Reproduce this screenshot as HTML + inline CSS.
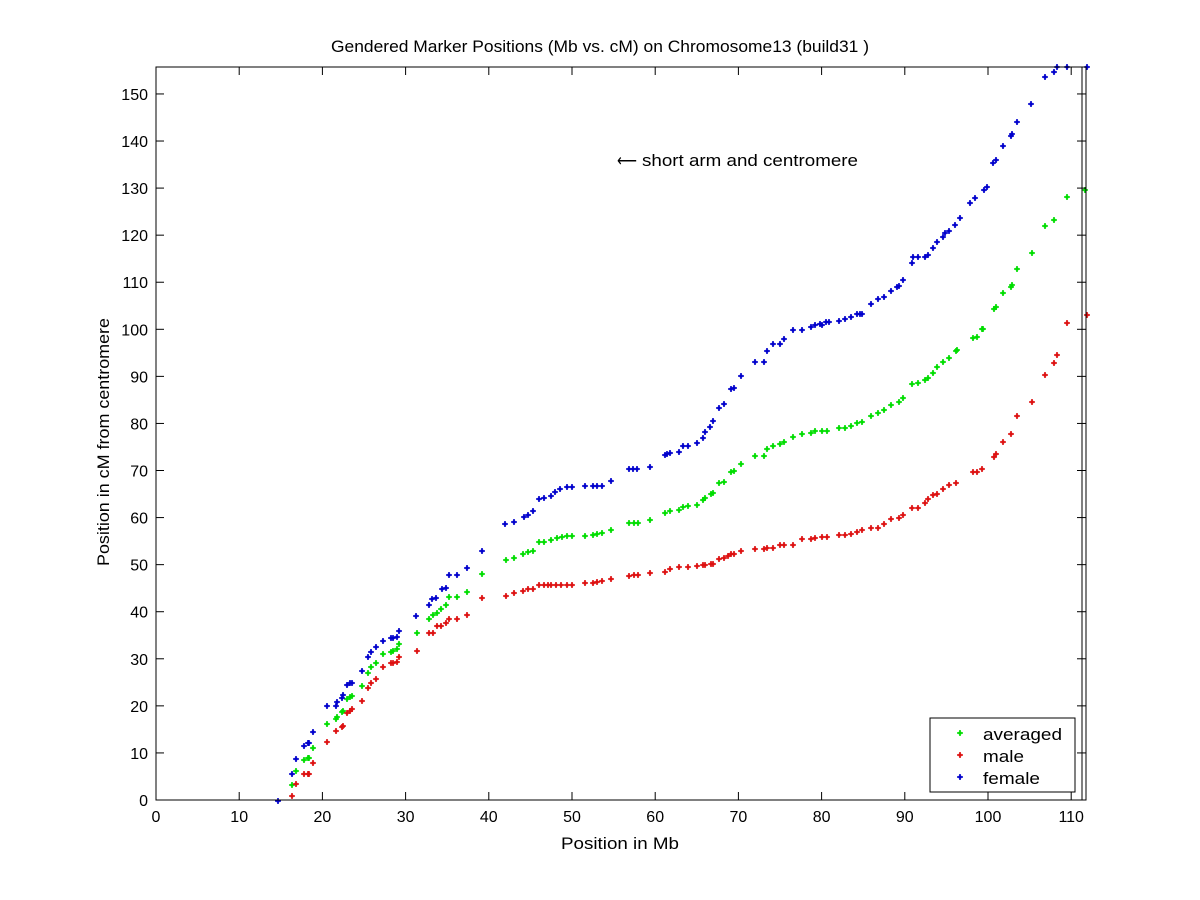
<!DOCTYPE html>
<html><head><meta charset="utf-8"><style>
body{margin:0;background:#fff}
svg{display:block;font-family:"Liberation Sans",sans-serif}
</style></head><body>
<svg id="s" width="1200" height="900" xmlns="http://www.w3.org/2000/svg">
<rect width="1200" height="900" fill="#fff"/>
<g id="pts"></g>
<g id="ax" stroke="#000" stroke-width="1" fill="none">
<rect x="156" y="67" width="930" height="733"/>
<line x1="1082" y1="67" x2="1082" y2="800"/>
</g>
<g id="lab" font-size="16" fill="#000"></g>
<text x="331" y="52" font-size="17" textLength="538" lengthAdjust="spacingAndGlyphs">Gendered Marker Positions (Mb vs. cM) on Chromosome13 (build31 )</text>
<text x="561" y="849" font-size="17" textLength="118" lengthAdjust="spacingAndGlyphs">Position in Mb</text>
<text transform="translate(109,566) rotate(-90)" font-size="17" textLength="248" lengthAdjust="spacingAndGlyphs">Position in cM from centromere</text>
<text x="617" y="166" font-size="17" textLength="20" lengthAdjust="spacingAndGlyphs">⟵</text>
<text x="642" y="166" font-size="17" textLength="216" lengthAdjust="spacingAndGlyphs">short arm and centromere</text>
<rect x="930" y="718" width="145" height="74" fill="#fff" stroke="#000"/>
<text x="983" y="740" font-size="17" textLength="79" lengthAdjust="spacingAndGlyphs">averaged</text>
<text x="983" y="762" font-size="17" textLength="41" lengthAdjust="spacingAndGlyphs">male</text>
<text x="983" y="784" font-size="17" textLength="57" lengthAdjust="spacingAndGlyphs">female</text>
<g id="leg"></g>
</svg>
<script>
const NS="http://www.w3.org/2000/svg";
const ax=document.getElementById('ax'),lab=document.getElementById('lab'),pts=document.getElementById('pts'),leg=document.getElementById('leg');
function L(x1,y1,x2,y2){const l=document.createElementNS(NS,'line');l.setAttribute('x1',x1);l.setAttribute('y1',y1);l.setAttribute('x2',x2);l.setAttribute('y2',y2);ax.appendChild(l);}
function T(x,y,s,a){const t=document.createElementNS(NS,'text');t.setAttribute('x',x);t.setAttribute('y',y);t.setAttribute('text-anchor',a);t.textContent=s;lab.appendChild(t);}
for(let i=0;i<=11;i++){const x=156+83.2*i;L(x,800,x,792);L(x,67,x,75);T(x,822,String(i*10),'middle');}
for(let i=0;i<=15;i++){const y=800-47.07*i;L(156,y,164,y);L(1086,y,1077,y);T(148,y+6,String(i*10),'end');}
function mk(g,x,y,c){const p=document.createElementNS(NS,'path');p.setAttribute('d',`M${x-2.5} ${y}L${x} ${y-2.5}L${x+2.5} ${y}L${x} ${y+2.5}Z M${x-3} ${y-0.8}h6v1.6h-6z M${x-0.8} ${y-3}h1.6v6h-1.6z`);p.setAttribute('fill',c);g.appendChild(p);}
const B=[[278,801],[292,774],[296,759],[304,746],[308,743],[309,743],[313,732],[327,706],[336,706],[337,702],[342,698],[343,695],[347,685],[350,683],[352,683],[362,671],[368,657],[371,652],[376,647],[383,641],[391,638],[393,638],[397,637],[399,631],[416,616],[429,605],[432,599],[436,598],[442,589],[446,588],[449,575],[457,575],[467,568],[482,551],[505,524],[514,522],[524,517],[528,515],[533,511],[539,499],[544,498],[551,496],[555,492],[560,489],[567,487],[572,487],[585,486],[593,486],[597,486],[602,486],[611,481],[629,469],[633,469],[637,469],[650,467],[665,455],[667,454],[670,453],[679,452],[683,446],[688,446],[697,443],[703,438],[705,432],[710,427],[713,421],[719,408],[724,404],[731,389],[734,388],[741,376],[755,362],[764,362],[767,351],[773,344],[780,344],[784,339],[793,330],[802,330],[811,327],[815,325],[820,324],[822,325],[826,322],[829,322],[839,321],[845,319],[851,317],[857,314],[860,314],[862,314],[871,304],[878,299],[884,297],[891,291],[897,287],[899,286],[903,280],[912,263],[913,257],[918,257],[925,257],[928,255],[933,248],[937,242],[943,237],[945,233],[949,231],[955,225],[960,218],[970,203],[975,198],[984,190],[987,187],[993,163],[996,160],[1003,146],[1011,136],[1012,134],[1017,122],[1031,104],[1045,77],[1054,72],[1057,67],[1067,67],[1087,67]];
const G=[[292,785],[296,771],[304,760],[308,758],[309,758],[313,748],[327,724],[336,719],[337,717],[342,712],[343,711],[347,699],[350,697],[352,696],[362,686],[368,673],[371,667],[376,663],[383,654],[391,652],[393,651],[397,649],[399,644],[417,633],[429,619],[433,615],[437,613],[441,609],[446,605],[449,597],[457,597],[467,592],[482,574],[506,560],[514,558],[523,554],[528,552],[533,551],[539,542],[544,542],[551,540],[557,538],[562,537],[567,536],[572,536],[585,536],[593,535],[597,534],[602,533],[611,530],[629,523],[634,523],[638,523],[650,520],[665,513],[670,511],[679,510],[683,507],[688,506],[697,505],[703,500],[705,498],[711,494],[713,493],[719,483],[724,482],[731,472],[734,471],[741,464],[755,456],[764,456],[767,449],[773,446],[780,444],[784,442],[793,437],[802,434],[811,433],[815,431],[822,431],[827,431],[839,428],[845,428],[851,426],[857,423],[862,422],[871,416],[878,413],[884,410],[891,405],[899,402],[903,398],[912,384],[918,383],[925,380],[928,378],[933,373],[937,367],[943,362],[949,358],[956,351],[957,350],[973,338],[977,337],[982,329],[983,329],[994,309],[996,307],[1003,293],[1011,287],[1012,285],[1017,269],[1032,253],[1045,226],[1054,220],[1067,197],[1085,190]];
const R=[[292,796],[296,784],[304,774],[308,774],[309,774],[313,763],[327,742],[336,731],[342,727],[343,726],[347,713],[350,711],[352,709],[362,701],[368,688],[371,683],[376,679],[383,667],[391,663],[393,663],[397,662],[399,657],[417,651],[429,633],[433,633],[437,626],[441,626],[446,623],[449,619],[457,619],[467,615],[482,598],[506,596],[514,593],[523,591],[528,589],[533,589],[539,585],[544,585],[548,585],[551,585],[556,585],[561,585],[567,585],[572,585],[585,583],[593,583],[597,582],[602,581],[611,579],[629,576],[634,575],[638,575],[650,573],[665,572],[670,569],[679,567],[688,567],[697,566],[703,565],[705,565],[711,564],[713,564],[719,559],[724,558],[728,556],[731,554],[734,554],[741,551],[755,549],[764,549],[767,548],[773,548],[780,545],[784,545],[793,545],[802,539],[811,539],[815,538],[822,537],[827,537],[839,535],[845,535],[851,534],[857,532],[862,530],[871,528],[878,528],[884,524],[891,519],[899,518],[903,515],[912,508],[918,508],[925,503],[928,499],[933,495],[937,494],[943,489],[949,485],[956,483],[973,472],[977,472],[982,469],[994,457],[996,454],[1003,442],[1011,434],[1017,416],[1032,402],[1045,375],[1054,363],[1057,355],[1067,323],[1087,315]];
G.forEach(p=>mk(pts,p[0],p[1],'#00dd00'));
R.forEach(p=>mk(pts,p[0],p[1],'#dd1111'));
B.forEach(p=>mk(pts,p[0],p[1],'#0000cc'));
mk(leg,960,733,'#00dd00');mk(leg,960,755,'#dd1111');mk(leg,960,777,'#0000cc');
</script>
</body></html>
